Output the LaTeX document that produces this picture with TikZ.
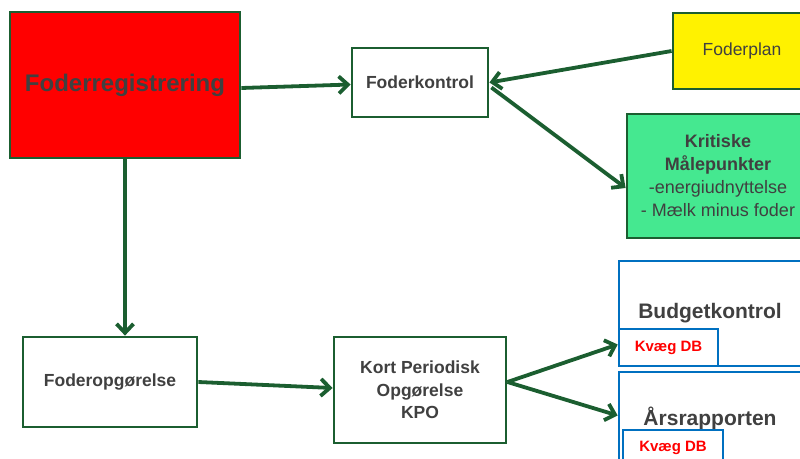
\documentclass[tikz,border=0pt]{standalone}
\usepackage{fontspec}
\setmainfont{Liberation Sans}
\usetikzlibrary{arrows.meta,calc}
\definecolor{dkgreen}{HTML}{1B5E30}
\definecolor{txtgray}{HTML}{404040}
\definecolor{boxblue}{HTML}{0070C0}
\definecolor{mintgreen}{HTML}{45E890}
\definecolor{kred}{HTML}{FF0000}
\tikzset{
  gbox/.style={draw=dkgreen, line width=2.8pt, rectangle, inner sep=0pt, text=txtgray, align=center},
  bbox/.style={draw=boxblue, line width=2.6pt, rectangle, inner sep=0pt},
  conn/.style={draw=dkgreen, line width=3.8pt, -{Straight Barb[length=9pt,width=17pt,line width=3.8pt]}},
  bigtxt/.style={font=\fontsize{24}{28}\selectfont\bfseries},
  midtxt/.style={font=\fontsize{17.5}{22.5}\selectfont\bfseries},
  kvtxt/.style={font=\fontsize{15}{18}\selectfont\bfseries, text=kred},
}
\begin{document}
\begin{tikzpicture}[x=1pt,y=-1pt]
\useasboundingbox (0,0) rectangle (800,458);
\clip (0,0) rectangle (800,458);
% nodes
\node[gbox, fill=red, minimum width=230pt, minimum height=146pt, bigtxt] (reg) at (125,85) {Foderregistrering};
\node[gbox, fill=white, minimum width=136pt, minimum height=69pt, midtxt] (ctrl) at (420,82.5) {Foderkontrol};
\node[gbox, fill=yellow, minimum width=138pt, minimum height=76pt, font=\fontsize{17.5}{22}\selectfont] (plan) at (742,51) {Foderplan};
\node[gbox, fill=mintgreen, minimum width=182pt, minimum height=124pt, font=\fontsize{18}{23}\selectfont] (krit) at (718,176) {\textbf{Kritiske}\\\textbf{Målepunkter}\\-energiudnyttelse\\- Mælk minus foder};
\node[gbox, fill=white, minimum width=174pt, minimum height=90pt, midtxt] (opg) at (110,382) {Foderopgørelse};
\node[gbox, fill=white, minimum width=172pt, minimum height=106pt, midtxt] (kpo) at (420,390) {Kort Periodisk\\Opgørelse\\KPO};
\node[bbox, fill=white, minimum width=182pt, minimum height=105pt, text=txtgray, font=\fontsize{21}{24}\selectfont\bfseries] (budget) at (710,313.5) {Budgetkontrol};
\node[bbox, fill=white, minimum width=99pt, minimum height=37pt, kvtxt] (kv1) at (668.5,347.5) {Kvæg DB};
\node[bbox, fill=white, minimum width=182pt, minimum height=93pt, text=txtgray, font=\fontsize{21}{24}\selectfont\bfseries] (ars) at (710,418.5) {Årsrapporten};
\node[bbox, fill=white, minimum width=100pt, minimum height=35pt, kvtxt] (kv2) at (673,447.5) {Kvæg DB};
% connectors
\draw[conn] ($(reg.east)+(0,3)$) -- ($(ctrl.west)+(0,2)$);
\draw[conn] (plan.west) -- (ctrl.east);
\draw[conn] ($(ctrl.east)+(2,5)$) -- ($(krit.west)+(0,12)$);
\draw[conn] (reg.south) -- (reg.south |- opg.north);
\draw[conn] (opg.east) -- ($(kpo.west)+(0,-2)$);
\draw[conn] ($(kpo.east)+(0,-8)$) -- ($(kv1.west)+(0,-3)$);
\draw[conn] ($(kpo.east)+(0,-8)$) -- ($(ars.west)+(0,-3)$);
\end{tikzpicture}
\end{document}
